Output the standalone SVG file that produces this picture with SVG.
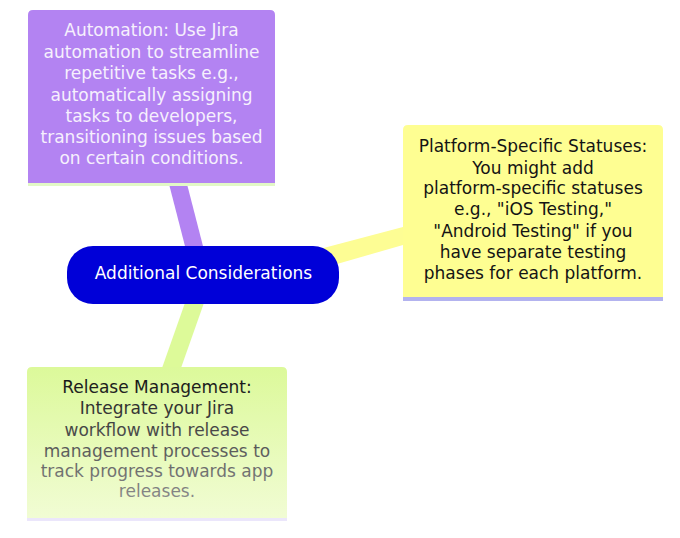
<svg xmlns="http://www.w3.org/2000/svg" width="680" height="538" viewBox="0 0 680 538">
<defs>
<style>
.t{font-family:"DejaVu Sans","Liberation Sans",sans-serif;font-size:17px;text-anchor:middle}
.w{fill:#f6f0fd}
.k{fill:#141414}
.g{fill:url(#gt)}
</style>
<linearGradient id="gg" x1="0" y1="0" x2="0" y2="1">
<stop offset="0" stop-color="#dcf99a"/>
<stop offset="1" stop-color="#f1fcd4"/>
</linearGradient>
<linearGradient id="gt" gradientUnits="userSpaceOnUse" x1="0" y1="378" x2="0" y2="500">
<stop offset="0" stop-color="#151515"/>
<stop offset="1" stop-color="#8c8c8c"/>
</linearGradient>
</defs>
<rect width="680" height="538" fill="#ffffff"/>
<g id="connectors">
<polygon points="169,184 187,184 204,250 186,250" fill="#b383f2"/>
<polygon points="316,250 403,227 403,245 330,266" fill="#fdfd94"/>
<polygon points="186,300 205,300 181,368 162,368" fill="#ddfa99"/>
</g>
<g id="automation">
<path d="M28,183 V15 Q28,10 33,10 H270 Q275,10 275,15 V183 Z" fill="#b383f2"/>
<rect x="28" y="183" width="247" height="3" fill="#e2f8c6"/>
<text class="t w" x="151.5" y="36">Automation: Use Jira</text>
<text class="t w" x="151.5" y="57.5">automation to streamline</text>
<text class="t w" x="151.5" y="79">repetitive tasks e.g.,</text>
<text class="t w" x="151.5" y="100.5">automatically assigning</text>
<text class="t w" x="151.5" y="122">tasks to developers,</text>
<text class="t w" x="151.5" y="143">transitioning issues based</text>
<text class="t w" x="151.5" y="164">on certain conditions.</text>
</g>
<g id="center">
<rect x="67" y="246" width="272" height="58" rx="26" fill="#0000d8"/>
<text class="t" x="203.5" y="279" fill="#ffffff">Additional Considerations</text>
</g>
<g id="platform">
<path d="M403,297 V130 Q403,125 408,125 H658 Q663,125 663,130 V297 Z" fill="#fefe92"/>
<rect x="403" y="297" width="260" height="4" fill="#b3b3ef"/>
<text class="t k" x="533" y="152">Platform-Specific Statuses:</text>
<text class="t k" x="533" y="173.5">You might add</text>
<text class="t k" x="533" y="194">platform-specific statuses</text>
<text class="t k" x="533" y="215">e.g., "iOS Testing,"</text>
<text class="t k" x="533" y="236.5">"Android Testing" if you</text>
<text class="t k" x="533" y="258">have separate testing</text>
<text class="t k" x="533" y="279">phases for each platform.</text>
</g>
<g id="release">
<path d="M27,518 V372 Q27,367 32,367 H282 Q287,367 287,372 V518 Z" fill="url(#gg)"/>
<rect x="27" y="518" width="260" height="3" fill="#ebe6fb"/>
<text class="t g" x="157" y="393">Release Management:</text>
<text class="t g" x="157" y="414">Integrate your Jira</text>
<text class="t g" x="157" y="435.5">workflow with release</text>
<text class="t g" x="157" y="457">management processes to</text>
<text class="t g" x="157" y="477">track progress towards app</text>
<text class="t g" x="157" y="497">releases.</text>
</g>
</svg>
